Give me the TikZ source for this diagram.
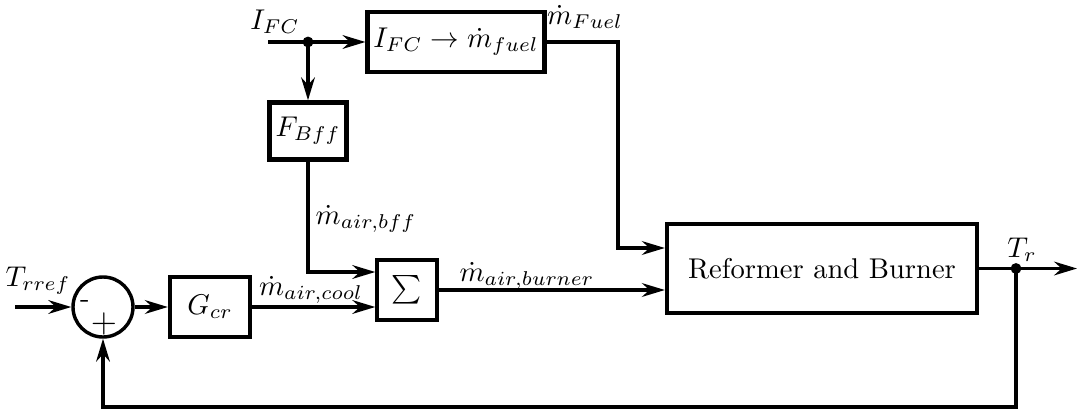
\documentclass[tikz,border=0pt]{standalone}
\usetikzlibrary{arrows.meta}

\begin{document}
\begin{tikzpicture}[
    x=0.35pt, y=-0.35pt,
    block/.style={draw, line width=1.5pt, inner sep=2pt, minimum height=21pt},
    sumcirc/.style={draw, circle, line width=1.2pt, minimum size=21pt, inner sep=0pt},
    sig/.style={line width=1.15pt, -{Stealth[length=8pt, width=4.8pt, inset=2.6pt]}},
    dot/.style={circle, fill, inner sep=0pt, minimum size=3.8pt},
    every node/.style={font=\normalsize},
]
  \useasboundingbox (0,0) rectangle (1080,414);
  % blocks
  \node[sumcirc] (sum) at (103,307) {};
  \node[inner sep=0pt] (minus) at (85,304) {-};
  \node[inner sep=0pt, font=\large] (plus) at (104,324) {+};
  \node[block, minimum width=28pt] (gcr) at (210,307) {$G_{cr}$};
  \node[block, line width=1.2pt, minimum width=21pt] (sigma) at (407,290) {$\sum$};
  \node[block, minimum width=108.5pt, minimum height=31pt] (ref) at (822,268.5) {Reformer and Burner};
  \node[block, minimum width=60pt] (fuel) at (456,42) {$I_{FC}\rightarrow\dot m_{fuel}$};
  \node[block, minimum width=27pt, minimum height=20pt] (fbff) at (308,131) {$F_{Bff}$};
  % helper points
  \coordinate (trin) at (15,307);
  \coordinate (ifc) at (268,42);
  \node[dot] (split) at (308,42) {};
  \coordinate (bffknee) at (308,272);
  \coordinate (fuelknee) at (618,248);
  \coordinate (tap) at (1016,268.5);
  \coordinate (out) at (1077,268.5);
  \coordinate (fbl) at (103,407);
  % signals
  \draw[sig] (trin) -- (sum);
  \draw[sig] (sum) -- (gcr);
  \draw[sig] (gcr.east) -- (gcr.east -| sigma.west);
  \draw[sig] (ifc) -- (fuel.west);
  \draw[sig] (split.center) -- (fbff.north);
  \draw[sig] (fbff.south) -- (bffknee) -- (bffknee -| sigma.west);
  \draw[sig] (fuel.east) -| (fuelknee) -- (fuelknee -| ref.west);
  \draw[sig] (sigma.east) -- (sigma.east -| ref.west);
  \draw[sig] (ref.east) -- (out);
  \draw[sig] (tap) |- (fbl) -- (sum.south);
  \node[dot] (tapdot) at (tap) {};
  % labels
  \node (trref) at (38,281) {$T_{rref}$};
  \node (ifclab) at (275,22) {$I_{FC}$};
  \node (mfuel) at (585,17) {$\dot m_{Fuel}$};
  \node (mbff) at (366,219) {$\dot m_{air,bff}$};
  \node (mcool) at (311,290) {$\dot m_{air,cool}$};
  \node (mburner) at (527,276) {$\dot m_{air,burner}$};
  \node (trlab) at (1022,250) {$T_r$};
\end{tikzpicture}
\end{document}
